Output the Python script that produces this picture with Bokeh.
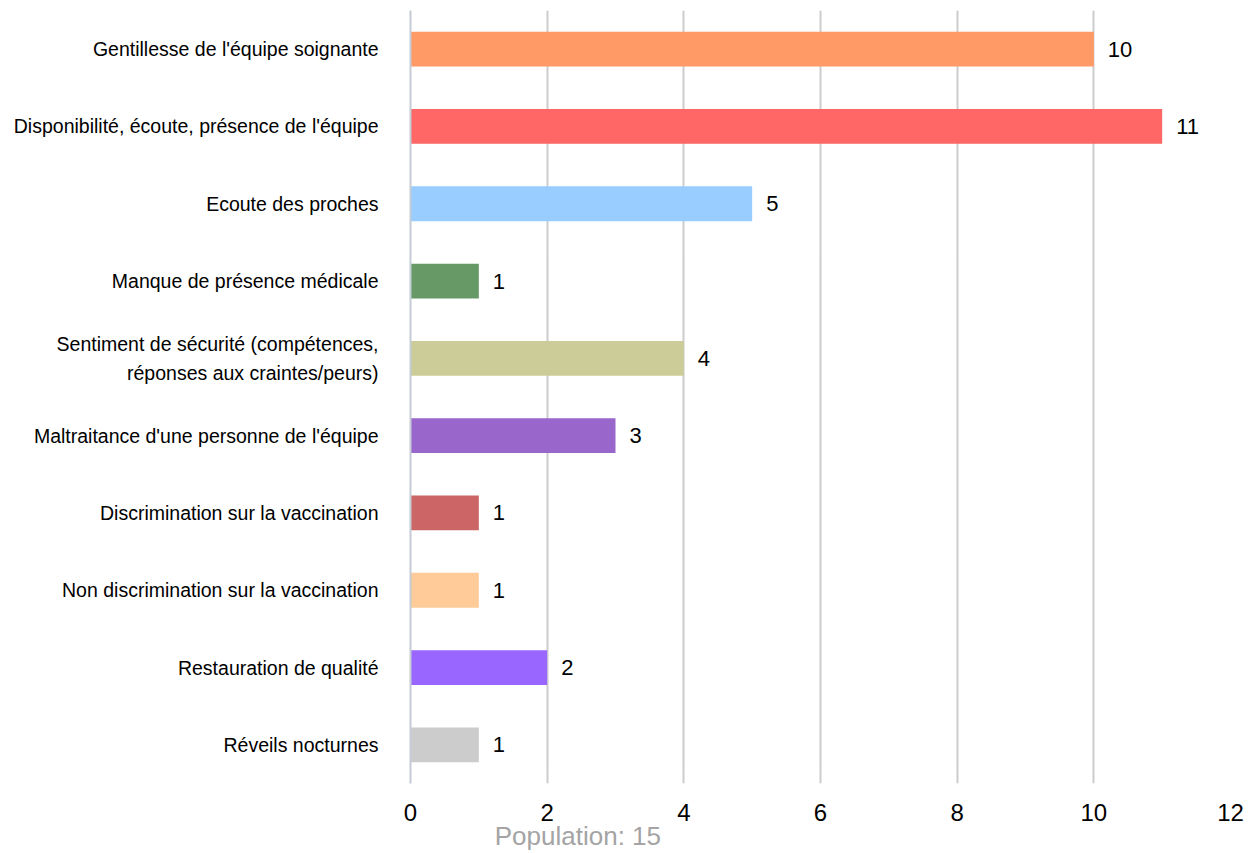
from bokeh.plotting import figure
from bokeh.models import ColumnDataSource, FactorRange, Range1d, FixedTicker, LinearAxis
from bokeh.embed import file_html
from bokeh.resources import INLINE
from bokeh.core.properties import value

categories = [
    "Gentillesse de l'équipe soignante",
    "Disponibilité, écoute, présence de l'équipe",
    "Ecoute des proches",
    "Manque de présence médicale",
    "Sentiment de sécurité (compétences,\nréponses aux craintes/peurs)",
    "Maltraitance d'une personne de l'équipe",
    "Discrimination sur la vaccination",
    "Non discrimination sur la vaccination",
    "Restauration de qualité",
    "Réveils nocturnes",
]
counts = [10, 11, 5, 1, 4, 3, 1, 1, 2, 1]
colors = ["#FF9966", "#FF6666", "#99CCFF", "#669966", "#CCCC99",
          "#9966CC", "#CC6666", "#FFCC99", "#9966FF", "#CCCCCC"]
x_ticks = [0, 2, 4, 6, 8, 10, 12]
population_text = "Population: 15"
population_pos = 2.45

FONT = "Liberation Sans"

src = ColumnDataSource(dict(
    cat=categories, v=counts, color=colors, lbl=[str(c) for c in counts]
))

p = figure(
    width=1244, height=853,
    y_range=FactorRange(factors=list(reversed(categories)), range_padding=0),
    x_range=Range1d(0, 12),
    output_backend="svg", toolbar_location=None,
    min_border_left=410, min_border_right=14,
    min_border_top=10, min_border_bottom=69,
)
p.outline_line_color = None
p.background_fill_color = "white"

p.hbar(y="cat", right="v", left=0, height=0.45, color="color",
       line_color=None, source=src)
p.text(x="v", y="cat", text="lbl", source=src, x_offset=14,
       text_baseline="middle", text_align="left",
       text_font=value(FONT), text_font_size="22px", text_color="#000000")

p.ygrid.grid_line_color = None
p.xgrid.grid_line_color = "#cccccc"
p.xgrid.grid_line_width = 2
p.xaxis.ticker = FixedTicker(ticks=x_ticks)

p.xaxis.axis_line_color = None
p.xaxis.major_tick_line_color = None
p.xaxis.minor_tick_line_color = None
p.xaxis.major_tick_out = 0
p.xaxis.major_label_standoff = 20
p.xaxis.major_label_text_font = FONT
p.xaxis.major_label_text_font_size = "24px"
p.xaxis.major_label_text_color = "#000000"

p.yaxis.axis_line_color = "#c4ccd6"
p.yaxis.axis_line_width = 2
p.yaxis.major_tick_line_color = None
p.yaxis.minor_tick_line_color = None
p.yaxis.major_tick_out = 0
p.yaxis.major_label_standoff = 32
p.yaxis.major_label_text_font = FONT
p.yaxis.major_label_text_font_size = "19.5px"
p.yaxis.major_label_text_color = "#000000"
p.yaxis.major_label_text_line_height = 1.3

pop_axis = LinearAxis(
    ticker=FixedTicker(ticks=[population_pos]),
    major_label_overrides={population_pos: population_text},
    axis_line_color=None, major_tick_line_color=None,
    minor_tick_line_color=None, major_tick_out=0, major_tick_in=0,
    major_label_standoff=-3,
    major_label_text_font=FONT, major_label_text_font_size="26px",
    major_label_text_color="#a4a4a4",
)
p.add_layout(pop_axis, "below")

open("out.html", "w").write(file_html(p, INLINE))
